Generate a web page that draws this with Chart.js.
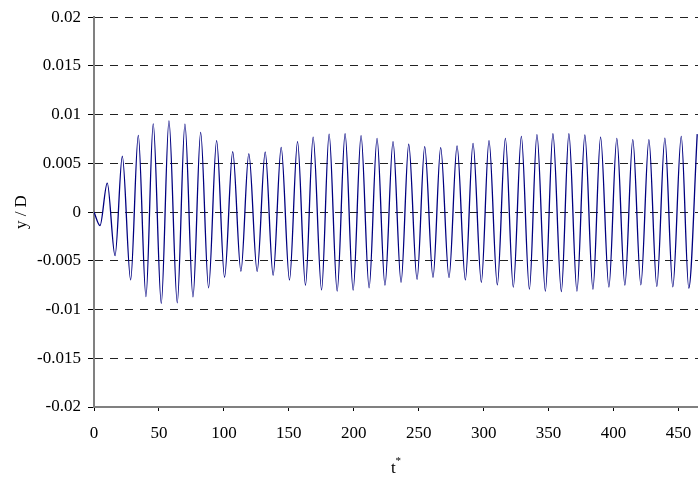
<!DOCTYPE html>
<html>
<head>
<meta charset="utf-8">
<script src="https://cdn.jsdelivr.net/npm/chart.js@4.4.0/dist/chart.umd.min.js"></script>
<style>
  html, body { margin: 0; padding: 0; background: #fff; }
  canvas { display: block; }
</style>
</head>
<body>
<canvas id="motionChart" width="698" height="477"></canvas>
<script>
// Extrema of the oscillation (t*, y/D)
const tPoints = [0, 4.6, 10.2, 16.2, 21.8, 28.2, 34.1, 40.0, 45.6, 51.8,
  57.7, 64.1, 70.0, 76.2, 82.1, 88.2, 94.4, 100.5, 106.8, 113.1,
  119.2, 125.6, 131.8, 137.9, 144.1, 150.5, 156.7, 162.8, 168.7, 175.2,
  181.0, 187.2, 193.3, 199.5, 205.6, 211.8, 217.9, 224.0, 230.2, 236.4,
  242.3, 248.7, 254.6, 261.0, 266.9, 273.3, 279.5, 285.9, 291.8, 298.2,
  304.1, 310.5, 316.7, 322.8, 329.0, 335.2, 341.0, 347.5, 353.3, 359.8,
  365.6, 371.8, 377.9, 384.1, 390.0, 396.4, 402.5, 408.7, 414.8, 421.0,
  427.2, 433.3, 439.5, 445.6, 452.1, 457.9, 464.4];
const yPoints = [0, -0.00138, 0.00298, -0.00447, 0.00573, -0.00696, 0.00788, -0.00866, 0.00906, -0.00937,
  0.00937, -0.0093, 0.00903, -0.0087, 0.00818, -0.00777, 0.00733, -0.00668, 0.0062, -0.00607,
  0.006, -0.0061, 0.00617, -0.00648, 0.00665, -0.00696, 0.00723, -0.0075, 0.0077, -0.00798,
  0.00801, -0.00811, 0.00804, -0.00801, 0.00784, -0.00777, 0.00757, -0.0075, 0.00723, -0.0072,
  0.00696, -0.00689, 0.00672, -0.00668, 0.00662, -0.00672, 0.00679, -0.00696, 0.00706, -0.0072,
  0.00733, -0.00747, 0.00757, -0.0077, 0.00777, -0.00791, 0.00794, -0.00811, 0.00804, -0.00815,
  0.00804, -0.00811, 0.00791, -0.00791, 0.0077, -0.0077, 0.00757, -0.0075, 0.00743, -0.00747,
  0.00743, -0.00763, 0.0076, -0.00767, 0.00777, -0.0078, 0.008];

// Axes
const xTicks = [0, 50, 100, 150, 200, 250, 300, 350, 400, 450];
const yTicks = [-0.02, -0.015, -0.01, -0.005, 0, 0.005, 0.01, 0.015, 0.02];
const yTickLabels = ['-0.02', '-0.015', '-0.01', '-0.005', '0', '0.005', '0.01', '0.015', '0.02'];
const xTitle = 't';
const xTitleSup = '*';
const yTitle = 'y / D';

const serif = "'Liberation Serif', 'Times New Roman', serif";
const ctx = document.getElementById('motionChart').getContext('2d');

// x axis title has a superscript star, so it is drawn here
const xTitlePlugin = {
  id: 'xTitleSup',
  afterDraw(chart) {
    const { ctx, chartArea } = chart;
    const cx = (chartArea.left + chartArea.right) / 2;
    ctx.save();
    ctx.fillStyle = '#000';
    ctx.textBaseline = 'alphabetic';
    ctx.textAlign = 'left';
    ctx.font = '17px ' + serif;
    const wT = ctx.measureText(xTitle).width;
    ctx.font = '11px ' + serif;
    const wS = ctx.measureText(xTitleSup).width;
    const x0 = cx - (wT + wS) / 2;
    ctx.font = '17px ' + serif;
    ctx.fillText(xTitle, x0, 473);
    ctx.font = '11px ' + serif;
    ctx.fillText(xTitleSup, x0 + wT, 464);
    ctx.restore();
  }
};

new Chart(ctx, {
  type: 'line',
  data: {
    datasets: [{
      data: tPoints.map((t, i) => ({ x: t, y: yPoints[i] })),
      borderColor: '#000080',
      borderWidth: 1.3,
      pointRadius: 0,
      cubicInterpolationMode: 'monotone',
      fill: false
    }]
  },
  options: {
    responsive: false,
    animation: false,
    devicePixelRatio: 1,
    layout: { padding: { top: 13, right: 0, bottom: 0, left: 0 } },
    plugins: {
      legend: { display: false },
      tooltip: { enabled: false }
    },
    scales: {
      x: {
        type: 'linear',
        min: 0,
        max: 465,
        afterBuildTicks: s => { s.ticks = xTicks.map(v => ({ value: v })); },
        afterFit: s => { s.height = 70; s.paddingRight = 0; s.paddingLeft = 0; },
        ticks: {
          font: { family: serif, size: 17 },
          color: '#000',
          padding: 12,
          maxRotation: 0,
          autoSkip: false
        },
        grid: { drawOnChartArea: false, tickLength: 4, tickColor: '#000', tickWidth: 1 },
        border: { color: '#808080', width: 2 }
      },
      y: {
        min: -0.02,
        max: 0.02,
        afterBuildTicks: s => { s.ticks = yTicks.map(v => ({ value: v })); },
        afterFit: s => { s.width = 94; },
        ticks: {
          font: { family: serif, size: 17 },
          color: '#000',
          padding: 7,
          callback: v => yTickLabels[yTicks.indexOf(v)]
        },
        grid: { color: '#222', lineWidth: 1, tickLength: 6, tickColor: '#000', tickBorderDash: [] },
        border: { color: '#808080', width: 2, dash: [8, 7] },
        title: {
          display: true,
          text: yTitle,
          color: '#000',
          font: { family: serif, size: 17 },
          padding: { top: 11, bottom: 0 }
        }
      }
    }
  },
  plugins: [xTitlePlugin]
});
</script>
</body>
</html>
